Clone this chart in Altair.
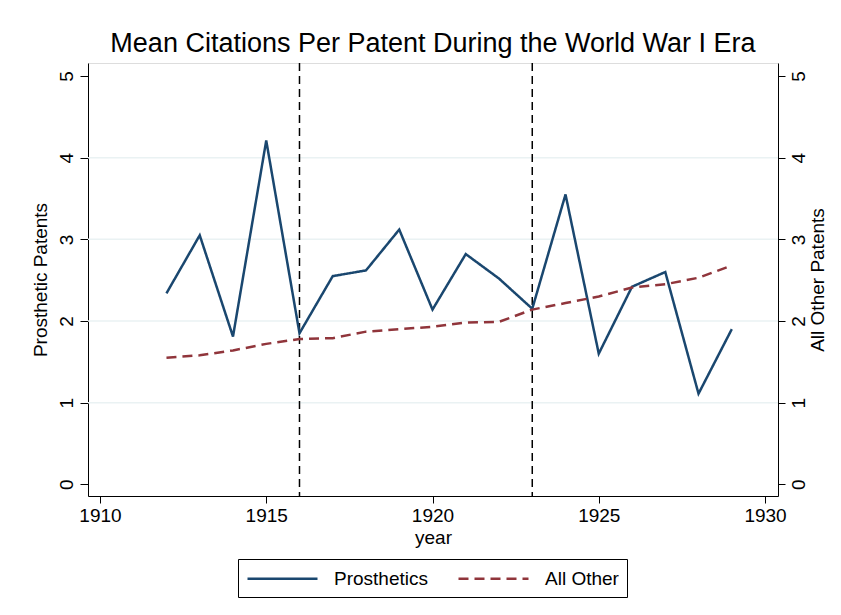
import altair as alt
import pandas as pd

years = list(range(1912, 1930))
prosthetics = [2.34, 3.05, 1.81, 4.21, 1.85, 2.55, 2.62, 3.12, 2.14, 2.82, 2.52, 2.15, 3.55, 1.60, 2.42, 2.60, 1.11, 1.90]
all_other = [1.55, 1.58, 1.64, 1.72, 1.78, 1.79, 1.87, 1.90, 1.93, 1.98, 1.99, 2.14, 2.22, 2.30, 2.41, 2.45, 2.53, 2.68]
series_names = ["Prosthetics", "All Other"]
series_colors = ["#1a476f", "#90353b"]
event_years = [1916, 1923]
grid_values = [1, 2, 3, 4]
y_ticks = [0, 1, 2, 3, 4, 5]
x_ticks = [1910, 1915, 1920, 1925, 1930]

FONT = "Liberation Sans"
FS = 19
xdom = [1909.64, 1930.39]
ydom = [-0.143, 5.16]

df_p = pd.DataFrame({"year": years, "value": prosthetics, "series": "Prosthetics"})
df_o = pd.DataFrame({"year": years, "value": all_other, "series": "All Other"})
df_grid = pd.DataFrame({"g": grid_values})
df_ev = pd.DataFrame({"year": event_years})

xs = alt.Scale(domain=xdom, nice=False, zero=False)
ys = alt.Scale(domain=ydom, nice=False, zero=False)

common = dict(labelFontSize=FS, titleFontSize=FS, labelFont=FONT, titleFont=FONT,
              titleFontWeight="normal", domainColor="black", tickColor="black",
              labelColor="black", titleColor="black", grid=False)

x_axis = alt.Axis(values=x_ticks, format="d", title="year", tickSize=7,
                  labelPadding=3.5, titlePadding=3, **common)

color_scale = alt.Scale(domain=series_names, range=series_colors)
dash_scale = alt.Scale(domain=series_names, range=[[1, 0], [10, 6]])

legend = alt.Legend(title=None, orient="none", legendX=150, legendY=496, direction="horizontal",
                    strokeColor="black", padding=8, labelFontSize=FS, labelFont=FONT,
                    symbolType="M-1,0L6,0", symbolSize=400, symbolStrokeWidth=2.5,
                    labelOffset=65, columnPadding=25, labelColor="black", fillColor="white")

grid = alt.Chart(df_grid).mark_rule(color="#eaf2f3", strokeWidth=1.5).encode(
    y=alt.Y("g:Q", scale=ys, axis=None)
)

events = alt.Chart(df_ev).mark_rule(color="black", strokeWidth=1.5, strokeDash=[8, 5]).encode(
    x=alt.X("year:Q", scale=xs, axis=x_axis)
)

line_p = alt.Chart(df_p).mark_line(strokeWidth=2.5).encode(
    x=alt.X("year:Q", scale=xs, axis=x_axis),
    y=alt.Y("value:Q", scale=ys, axis=alt.Axis(
        values=y_ticks, title="Prosthetic Patents", orient="left",
        labelAngle=-90, labelAlign="center", labelBaseline="bottom",
        tickSize=8, labelPadding=4, titlePadding=7, **common)),
    color=alt.Color("series:N", scale=color_scale, legend=legend),
    strokeDash=alt.StrokeDash("series:N", scale=dash_scale, legend=legend),
)

line_o = alt.Chart(df_o).mark_line(strokeWidth=2.5).encode(
    x=alt.X("year:Q", scale=xs, axis=x_axis),
    y=alt.Y("value:Q", scale=ys, axis=alt.Axis(
        values=y_ticks, title="All Other Patents", orient="right",
        labelAngle=-90, labelAlign="center", labelBaseline="top",
        tickSize=7, labelPadding=4, titlePadding=0,
        titleAngle=-90, titleBaseline="top", **common)),
    color=alt.Color("series:N", scale=color_scale, legend=legend),
    strokeDash=alt.StrokeDash("series:N", scale=dash_scale, legend=legend),
)

chart = alt.layer(grid, events, line_p, line_o).resolve_scale(y="independent").properties(
    width=690, height=433,
    title=alt.TitleParams("Mean Citations Per Patent During the World War I Era",
                          fontSize=27, font=FONT, fontWeight="normal", color="black",
                          anchor="middle", offset=4),
    autosize=alt.AutoSizeParams(type="none"),
    padding={"left": 80, "top": 55, "right": 55, "bottom": 111},
).configure_view(stroke=None).configure(background="white")

chart.save("out.html", embed_options={"renderer": "svg", "actions": False})
